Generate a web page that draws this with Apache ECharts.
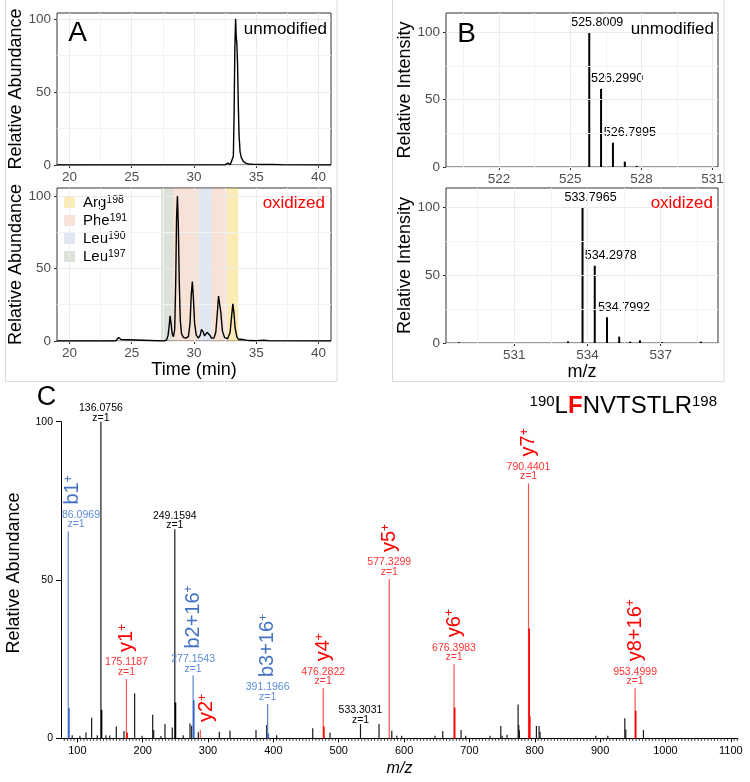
<!DOCTYPE html>
<html>
<head>
<meta charset="utf-8">
<script src="https://cdn.jsdelivr.net/npm/echarts@6/dist/echarts.min.js"></script>
<style>
html,body{margin:0;padding:0;background:#ffffff;}
#chart{width:750px;height:782px;}
</style>
</head>
<body>
<div id="chart"></div>
<script>
// ================= Panel A : extracted ion chromatograms =================
const timeTicks = [20, 25, 30, 35, 40];
const timeMinorTicks = [22.5, 27.5, 32.5, 37.5];
const abundanceTicks = [0, 50, 100];
const abundanceMinorTicks = [25, 75];

// [time (min), relative abundance]
const unmodifiedTrace = [[19,0],[32.5,0.1],[32.62,0.8],[32.72,1.3],[32.82,0.8],[32.92,0.3],[33.08,0.6],[33.16,6],[33.22,35],[33.28,80],[33.34,100],[33.39,88],[33.44,83],[33.5,68],[33.56,40],[33.62,20],[33.7,9],[33.8,5],[33.95,2.6],[34.15,1.3],[34.4,0.7],[34.8,0.4],[35.5,0.3],[36.2,0.4],[37,0.2],[38,0.1],[41,0]];

const oxidizedTrace = [[19,0],[23.7,0],[23.85,1.2],[23.95,2.4],[24.05,2.3],[24.15,1.0],[24.3,0.1],[27.6,0],[27.8,0.8],[27.92,4],[28.0,10],[28.08,17.4],[28.16,12],[28.25,5],[28.35,3],[28.45,8],[28.53,40],[28.6,85],[28.67,100],[28.74,80],[28.82,40],[28.9,14],[29.0,5],[29.15,2.5],[29.35,2],[29.55,3],[29.68,12],[29.78,32],[29.87,41],[29.95,30],[30.05,12],[30.18,4],[30.35,2],[30.5,4],[30.6,8],[30.67,9],[30.75,6],[30.85,3.5],[30.95,4],[31.05,6],[31.17,6.7],[31.27,4],[31.4,2],[31.6,2],[31.75,6],[31.88,20],[31.97,31],[32.06,30],[32.15,20],[32.28,7],[32.45,2.5],[32.7,1.5],[32.9,6],[33.03,18],[33.12,25.7],[33.2,20],[33.3,9],[33.45,2.5],[33.6,1],[33.8,1.2],[33.95,1.5],[34.1,0.8],[34.4,0.3],[35.0,0.2],[35.6,0.5],[36.0,0.2],[37,0.1],[41,0]];

// shaded elution windows of oxidised isomers
const bandResidue = ['Leu197', 'Phe191', 'Leu190', 'Phe191', 'Arg198'];
const bandStart   = [27.36, 28.32, 30.42, 31.40, 32.66];
const bandEnd     = [28.32, 30.42, 31.40, 32.66, 33.56];
const legendKeys    = ['Arg198', 'Phe191', 'Leu190', 'Leu197'];
const legendResidue = ['Arg', 'Phe', 'Leu', 'Leu'];
const legendNumber  = ['198', '191', '190', '197'];
const bandColors = ['rgba(245,205,70,0.40)', 'rgba(232,182,152,0.40)', 'rgba(175,195,225,0.40)', 'rgba(167,182,157,0.40)'];

// ================= Panel B : precursor isotope envelopes =================
const unmodMzTicks = [522, 525, 528, 531];
const unmodMzMinor = [520.5, 523.5, 526.5, 529.5];
const oxMzTicks = [531, 534, 537];
const oxMzMinor = [529.5, 532.5, 535.5, 538.5];
const intensityTicks = [0, 50, 100];
const intensityMinor = [25, 75];

const unmodMz        = [525.8009, 526.2990, 526.7995, 527.30, 527.80];
const unmodIntensity = [100, 58, 18, 4, 0.8];
const unmodLabel     = ['525.8009', '526.2990', '526.7995', '', ''];

const oxMz        = [528.73, 533.20, 533.7965, 534.2978, 534.7992, 535.30, 535.75, 536.15, 537.05, 538.65];
const oxIntensity = [0.5, 1.2, 100, 57, 19, 4.7, 1.0, 2.0, 0.7, 1.0];
const oxLabel     = ['', '', '533.7965', '534.2978', '534.7992', '', '', '', '', ''];

// ================= Panel C : MS/MS spectrum =================
const msTicks = [100, 200, 300, 400, 500, 600, 700, 800, 900, 1000, 1100];
const relAbundTicks = [0, 50, 100];

const ionMz    = [86.0969, 136.0756, 175.1187, 249.1594, 277.1543, 288.20, 391.1966, 476.2822, 533.3031, 577.3299, 676.3983, 790.4401, 953.4999];
const ionAbund = [65.3, 100, 18.7, 66.0, 19.8, 2.6, 10.8, 15.8, 4.5, 50.3, 23.4, 80.5, 15.8];
const ionKind  = ['b', 'n', 'y', 'n', 'b', 'y', 'b', 'y', 'n', 'y', 'y', 'y', 'y'];
const ionName  = ['b1', '', 'y1', '', 'b2+16', 'y2', 'b3+16', 'y4', '', 'y5', 'y6', 'y7', 'y8+16'];
const ionValueLabel = ['86.0969', '136.0756', '175.1187', '249.1594', '277.1543', '', '391.1966', '476.2822', '533.3031', '577.3299', '676.3983', '790.4401', '953.4999'];
const ionCharge = ['z=1', 'z=1', 'z=1', 'z=1', 'z=1', '', 'z=1', 'z=1', 'z=1', 'z=1', 'z=1', 'z=1', 'z=1'];

const isoMz    = [87.10, 137.08, 176.12, 250.16, 278.16, 392.20, 477.29, 677.40, 791.44, 792.44, 954.50];
const isoAbund = [9.5, 9.0, 1.8, 11.3, 12.0, 1.5, 3.7, 9.7, 34.7, 7.0, 8.7];
const isoKind  = ['b', 'n', 'y', 'n', 'b', 'b', 'y', 'y', 'y', 'y', 'y'];

const otherMz    = [92.1, 104.0, 113.2, 121.9, 130.5, 143.8, 149.5, 159.6, 171.4, 187.7, 199.0, 215.3, 216.8, 228.0, 234.1, 245.3, 262.0, 272.4, 275.0, 285.1, 317.3, 333.6, 373.4, 389.8, 405.0, 460.2, 486.7, 561.7, 581.2, 588.8, 596.4, 647.4, 659.2, 687.2, 694.4, 731.6, 748.0, 750.0, 757.6, 774.5, 775.5, 776.5, 802.5, 806.6, 808.1, 893.4, 911.8, 937.8, 939.3, 966.3];
const otherAbund = [1.0, 0.8, 1.8, 6.5, 1.0, 1.0, 0.9, 3.7, 2.3, 14.2, 0.8, 7.4, 2.6, 0.7, 4.5, 3.4, 1.0, 4.7, 4.0, 1.9, 2.1, 2.4, 2.6, 4.2, 1.0, 3.2, 1.8, 4.5, 2.4, 0.8, 0.8, 0.8, 2.3, 2.6, 0.8, 0.8, 3.9, 0.8, 1.1, 10.7, 4.2, 2.5, 3.9, 3.9, 2.1, 0.8, 0.8, 6.3, 2.8, 2.6];

// minor tick marks along the m/z axis (axis decoration, every 5 units)
const msMinorTicks = [];
for (let v = 80; v <= 1110; v += 5) { if (v % 100 !== 0) msMinorTicks.push(v); }

// ================= styling =================
const FONT = "'Liberation Sans', Arial, Helvetica, sans-serif";
const TICK_GREY = '#4D4D4D';
const barColor   = { b: '#5A88D6', y: '#FF5252', n: '#1A1A1A' };
const isoColor   = { b: '#2F62C6', y: '#FF0000', n: '#000000' };
const nameColor  = { b: '#4472C4', y: '#FF0000', n: '#000000' };
const valueColor = { b: '#5B8BD9', y: '#FF3333', n: '#000000' };
const isotopeLabelShift = [8, 16, 17];

const chart = echarts.init(document.getElementById('chart'), null, { renderer: 'canvas', width: 750, height: 782 });

function ggXAxis(gridIndex, min, max, ticks, extra) {
  return Object.assign({
    type: 'value', gridIndex, min, max, position: 'bottom',
    axisLine: { show: false },
    axisTick: { show: true, inside: false, length: 3, customValues: ticks, lineStyle: { color: '#333', width: 1 } },
    axisLabel: { customValues: ticks, color: TICK_GREY, fontSize: 13.5, margin: 5, fontFamily: FONT, formatter: v => String(v) },
    splitLine: { show: false }
  }, extra || {});
}
function ggYAxis(gridIndex, min, max, ticks) {
  return {
    type: 'value', gridIndex, min, max, position: 'left',
    axisLine: { show: false },
    axisTick: { show: true, inside: false, length: 3, customValues: ticks, lineStyle: { color: '#333', width: 1 } },
    axisLabel: { customValues: ticks, color: TICK_GREY, fontSize: 13.5, margin: 6, fontFamily: FONT },
    splitLine: { show: false }
  };
}
function gridLineSeries(xi, majX, minX, majY, minY) {
  const d = [];
  const minStyle = { color: '#F3F3F3', width: 1, type: 'solid' };
  const majStyle = { color: '#EBEBEB', width: 1, type: 'solid' };
  minX.forEach(v => d.push({ xAxis: v, lineStyle: minStyle }));
  minY.forEach(v => d.push({ yAxis: v, lineStyle: minStyle }));
  majX.forEach(v => d.push({ xAxis: v, lineStyle: majStyle }));
  majY.forEach(v => d.push({ yAxis: v, lineStyle: majStyle }));
  return {
    type: 'line', xAxisIndex: xi, yAxisIndex: xi, data: [], silent: true, z: 0,
    markLine: { silent: true, symbol: ['none', 'none'], label: { show: false }, animation: false, data: d }
  };
}
function stickSeries(xi, mzArr, intArr, labelArr) {
  return {
    type: 'custom', xAxisIndex: xi, yAxisIndex: xi, clip: false, silent: true, z: 4,
    data: mzArr.map((m, i) => [m, intArr[i], i]),
    encode: { x: 0, y: 1 },
    renderItem(params, api) {
      const i = api.value(2);
      const b = api.coord([api.value(0), 0]);
      const t = api.coord([api.value(0), api.value(1)]);
      const ch = [{ type: 'rect', shape: { x: b[0] - 1, y: t[1], width: 2, height: b[1] - t[1] }, style: { fill: '#000' } }];
      if (labelArr[i]) {
        const li = labelArr.slice(0, i).filter(Boolean).length;
        ch.push({ type: 'text', x: t[0] + isotopeLabelShift[li], y: t[1] - 10,
          style: { text: labelArr[i], align: 'center', verticalAlign: 'middle', fontSize: 12.5, fontFamily: FONT, fill: '#000' } });
      }
      return { type: 'group', children: ch };
    }
  };
}

// ---------- axes ----------
const xAxes = [
  ggXAxis(0, 19, 41, timeTicks),
  ggXAxis(1, 19, 41, timeTicks, { name: 'Time (min)', nameLocation: 'middle', nameGap: 17, nameTextStyle: { fontSize: 18, color: '#000', fontFamily: FONT } }),
  ggXAxis(2, 519.76, 531.23, unmodMzTicks),
  ggXAxis(3, 528.2, 539.35, oxMzTicks, { name: 'm/z', nameLocation: 'middle', nameGap: 17, nameTextStyle: { fontSize: 18, color: '#000', fontFamily: FONT } }),
  {
    type: 'value', gridIndex: 4, min: 75, max: 1111, position: 'bottom',
    axisLine: { show: true, lineStyle: { color: '#000', width: 1 } },
    axisTick: { show: true, length: 4, customValues: msTicks, lineStyle: { color: '#000', width: 1 } },
    axisLabel: { customValues: msTicks, color: '#000', fontSize: 11, margin: 7, fontFamily: FONT, formatter: v => String(v) },
    splitLine: { show: false },
    name: 'm/z', nameLocation: 'middle', nameGap: 22,
    nameTextStyle: { fontSize: 16, fontStyle: 'italic', color: '#000', fontFamily: FONT }
  }
];
const yName = (txt, gap) => ({ name: txt, nameLocation: 'middle', nameGap: gap, nameTextStyle: { fontSize: 18, color: '#000', fontFamily: FONT } });
const yAxes = [
  Object.assign(ggYAxis(0, 0, 104, abundanceTicks), yName('Relative Abundance', 24)),
  Object.assign(ggYAxis(1, 0, 105.5, abundanceTicks), yName('Relative Abundance', 24)),
  Object.assign(ggYAxis(2, 0, 114.3, intensityTicks), yName('Relative Intensity', 29)),
  Object.assign(ggYAxis(3, 0, 114.3, intensityTicks), yName('Relative Intensity', 29)),
  {
    type: 'value', gridIndex: 4, min: 0, max: 100, interval: 50, position: 'left',
    axisLine: { show: true, lineStyle: { color: '#000', width: 1 } },
    axisTick: { show: true, length: 5, lineStyle: { color: '#000' } },
    axisLabel: { color: '#000', fontSize: 10.5, margin: 8, fontFamily: FONT },
    splitLine: { show: false }
  }
];

// ---------- series ----------
const series = [
  gridLineSeries(0, timeTicks, timeMinorTicks, abundanceTicks, abundanceMinorTicks),
  gridLineSeries(1, timeTicks, timeMinorTicks, abundanceTicks, abundanceMinorTicks),
  gridLineSeries(2, unmodMzTicks, unmodMzMinor, intensityTicks, intensityMinor),
  gridLineSeries(3, oxMzTicks, oxMzMinor, intensityTicks, intensityMinor),
  {
    name: 'unmodified', type: 'line', xAxisIndex: 0, yAxisIndex: 0, data: unmodifiedTrace,
    symbol: 'none', lineStyle: { color: '#000', width: 1.4 }, z: 5, silent: true
  },
  {
    name: 'oxidized', type: 'line', xAxisIndex: 1, yAxisIndex: 1, data: oxidizedTrace,
    symbol: 'none', lineStyle: { color: '#000', width: 1.4 }, z: 5, silent: true
  }
];
legendKeys.forEach((key, k) => {
  series.push({
    name: key, type: 'bar', xAxisIndex: 1, yAxisIndex: 1, data: [], z: 1, silent: true,
    itemStyle: { color: bandColors[k] },
    markArea: {
      silent: true, itemStyle: { color: bandColors[k] },
      data: bandResidue.map((r, i) => r === key ? [{ xAxis: bandStart[i] }, { xAxis: bandEnd[i] }] : null).filter(Boolean)
    }
  });
});
series.push(stickSeries(2, unmodMz, unmodIntensity, unmodLabel));
series.push(stickSeries(3, oxMz, oxIntensity, oxLabel));

// panel C: minor tick marks under the m/z axis
series.push({
  type: 'custom', xAxisIndex: 4, yAxisIndex: 4, clip: false, silent: true, z: 2,
  data: msMinorTicks.map(v => [v, 0]), encode: { x: 0, y: 1 },
  renderItem(params, api) {
    const p = api.coord([api.value(0), 0]);
    return { type: 'line', shape: { x1: p[0], y1: p[1], x2: p[0], y2: p[1] + 2.5 }, style: { stroke: '#333', lineWidth: 1 } };
  }
});
// panel C: unannotated peaks
series.push({
  type: 'custom', xAxisIndex: 4, yAxisIndex: 4, clip: false, silent: true, z: 3,
  data: otherMz.map((m, i) => [m, otherAbund[i]]), encode: { x: 0, y: 1 },
  renderItem(params, api) {
    const b = api.coord([api.value(0), 0]);
    const t = api.coord([api.value(0), api.value(1)]);
    return { type: 'rect', shape: { x: b[0] - 0.6, y: t[1], width: 1.2, height: b[1] - t[1] }, style: { fill: '#1A1A1A' } };
  }
});
// panel C: annotated peaks
series.push({
  type: 'custom', xAxisIndex: 4, yAxisIndex: 4, clip: false, silent: true, z: 4,
  data: ionMz.map((m, i) => [m, ionAbund[i], i]), encode: { x: 0, y: 1 },
  renderItem(params, api) {
    const i = api.value(2);
    const k = ionKind[i];
    const b = api.coord([api.value(0), 0]);
    const t = api.coord([api.value(0), api.value(1)]);
    const axisX = api.coord([75, 0])[0];
    const ch = [{ type: 'rect', shape: { x: b[0] - 0.6, y: t[1], width: 1.2, height: b[1] - t[1] }, style: { fill: barColor[k] } }];
    const colored = k !== 'n';
    if (ionValueLabel[i]) {
      const zOff = colored ? 7 : 4, vOff = colored ? 16.5 : 13.5;
      ch.push({ type: 'text', x: Math.max(t[0], axisX + 20), y: t[1] - vOff,
        style: { text: ionValueLabel[i], align: 'center', verticalAlign: 'middle', fontSize: 10.5, fontFamily: FONT, fill: valueColor[k] } });
      ch.push({ type: 'text', x: Math.max(t[0], axisX + 15), y: t[1] - zOff,
        style: { text: ionCharge[i], align: 'center', verticalAlign: 'middle', fontSize: 10.5, fontFamily: FONT, fill: valueColor[k] } });
    }
    if (ionName[i]) {
      const hasValue = !!ionValueLabel[i];
      const ax = hasValue ? Math.max(t[0], axisX + 11.5) : t[0] + 6;
      const ay = hasValue ? t[1] - 27 : t[1] - 8;
      ch.push({ type: 'text', x: ax, y: ay, rotation: Math.PI / 2,
        style: {
          text: '{n|' + ionName[i] + '}{s|+}', align: 'left', verticalAlign: 'middle',
          rich: {
            n: { fontSize: 20, fontFamily: FONT, fill: nameColor[k] },
            s: { fontSize: 12, fontFamily: FONT, fill: nameColor[k], verticalAlign: 'top' }
          }
        } });
    }
    return { type: 'group', children: ch };
  }
});
// panel C: isotope peaks
series.push({
  type: 'custom', xAxisIndex: 4, yAxisIndex: 4, clip: false, silent: true, z: 5,
  data: isoMz.map((m, i) => [m, isoAbund[i], i]), encode: { x: 0, y: 1 },
  renderItem(params, api) {
    const i = api.value(2);
    const b = api.coord([api.value(0), 0]);
    const t = api.coord([api.value(0), api.value(1)]);
    return { type: 'rect', shape: { x: b[0] - 0.8, y: t[1], width: 1.6, height: b[1] - t[1] }, style: { fill: isoColor[isoKind[i]] } };
  }
});

const option = {
  animation: false,
  backgroundColor: '#ffffff',
  textStyle: { fontFamily: FONT },
  grid: [
    { left: 57, top: 13, width: 274, height: 152, show: true, borderColor: '#333', borderWidth: 1, backgroundColor: '#fff', containLabel: false },
    { left: 57, top: 188, width: 274, height: 153, show: true, borderColor: '#333', borderWidth: 1, backgroundColor: '#fff', containLabel: false },
    { left: 446, top: 13, width: 272, height: 154, show: true, borderColor: '#333', borderWidth: 1, backgroundColor: '#fff', containLabel: false },
    { left: 446, top: 188, width: 272, height: 155, show: true, borderColor: '#333', borderWidth: 1, backgroundColor: '#fff', containLabel: false },
    { left: 61, top: 421.7, width: 677, height: 316.6, show: false, containLabel: false }
  ],
  xAxis: xAxes,
  yAxis: yAxes,
  legend: {
    data: legendKeys, orient: 'vertical', left: 59, top: 190, icon: 'rect',
    itemWidth: 11, itemHeight: 11, itemGap: 3, selectedMode: false,
    formatter: function (name) {
      const i = legendKeys.indexOf(name);
      return '{r|' + legendResidue[i] + '}{s|' + legendNumber[i] + '}';
    },
    textStyle: {
      padding: [0, 0, 0, 3],
      rich: {
        r: { fontSize: 15, color: '#000', fontFamily: FONT },
        s: { fontSize: 10.5, color: '#000', fontFamily: FONT, verticalAlign: 'top' }
      }
    }
  },
  graphic: [
    { type: 'rect', silent: true, z: -10, shape: { x: 5.5, y: -1, width: 331.5, height: 382.5 }, style: { fill: 'none', stroke: '#DADADA', lineWidth: 1 } },
    { type: 'rect', silent: true, z: -10, shape: { x: 392.5, y: -1, width: 331.5, height: 382.5 }, style: { fill: 'none', stroke: '#DADADA', lineWidth: 1 } },
    { type: 'text', x: 77.5, y: 33.5, z: 10, style: { text: 'A', fontSize: 28, fontFamily: FONT, fill: '#000', align: 'center', verticalAlign: 'middle' } },
    { type: 'text', x: 466.5, y: 34, z: 10, style: { text: 'B', fontSize: 28, fontFamily: FONT, fill: '#000', align: 'center', verticalAlign: 'middle' } },
    { type: 'text', x: 327, y: 29, z: 10, style: { text: 'unmodified', fontSize: 17, fontFamily: FONT, fill: '#000', align: 'right', verticalAlign: 'middle' } },
    { type: 'text', x: 714, y: 29, z: 10, style: { text: 'unmodified', fontSize: 17, fontFamily: FONT, fill: '#000', align: 'right', verticalAlign: 'middle' } },
    { type: 'text', x: 325, y: 203, z: 10, style: { text: 'oxidized', fontSize: 17, fontFamily: FONT, fill: '#FF0000', align: 'right', verticalAlign: 'middle' } },
    { type: 'text', x: 713, y: 203, z: 10, style: { text: 'oxidized', fontSize: 17, fontFamily: FONT, fill: '#FF0000', align: 'right', verticalAlign: 'middle' } },
    { type: 'text', x: 46.5, y: 397.5, z: 10, style: { text: 'C', fontSize: 27, fontFamily: FONT, fill: '#000', align: 'center', verticalAlign: 'middle' } },
    { type: 'text', x: 14, y: 573, rotation: Math.PI / 2, z: 10, style: { text: 'Relative Abundance', fontSize: 18, fontFamily: FONT, fill: '#000', align: 'center', verticalAlign: 'middle' } },
    { type: 'text', x: 717, y: 406, z: 10, style: {
        text: '{sup|190}{b|L}{f|F}{b|NVTSTLR}{sup|198}', align: 'right', verticalAlign: 'middle',
        rich: {
          b: { fontSize: 24, fontFamily: FONT, fill: '#000' },
          f: { fontSize: 24, fontFamily: FONT, fill: '#FF0000', fontWeight: 'bold' },
          sup: { fontSize: 15, fontFamily: FONT, fill: '#000', verticalAlign: 'top' }
        } } }
  ],
  series
};
chart.setOption(option);
</script>
</body>
</html>
